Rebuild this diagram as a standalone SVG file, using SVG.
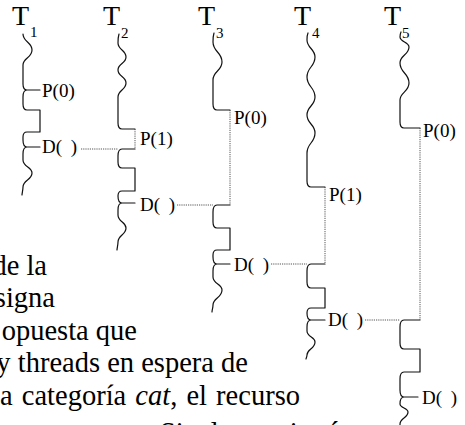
<svg xmlns="http://www.w3.org/2000/svg" width="465" height="425" viewBox="0 0 465 425">
<style>
.th{fill:none;stroke:#111;stroke-width:1.2;stroke-linejoin:round;stroke-linecap:round}
.dt{fill:none;stroke:#555;stroke-width:1;stroke-dasharray:1.2 1}
text{font-family:"Liberation Serif","Times New Roman",serif;fill:#000}
.tl{font-size:28px}
.sb{font-size:15px}
.lb{font-size:19px}
.dl{word-spacing:4px}
.pa{font-size:28.5px}
</style>
<rect width="465" height="425" fill="#fff"/>
<g id="connectors">
<path class="dt" d="M81,149 H118 M135,129 V149"/>
<path class="dt" d="M177,205 H213 M230,110 V205"/>
<path class="dt" d="M271,264 H307 M325,187 V264"/>
<path class="dt" d="M365,320 H400 M420,128 V320"/>
</g>
<g id="T1">
<text class="tl" x="12" y="25">T</text><text class="sb" x="30" y="37">1</text>
<path class="th" d="M23,34 c0,8 9,8 9,16 c0,8 -9,8 -9,15 V84 c0,4 1,6 4,6 H40 M27,90 c-3,0 -4,3 -4,7 V104 c0,4 1,6 4,6 H40 V132 H27 c-3,0 -4,2 -4,5 V140 c0,4 1,7 4,7 H40 M27,147 c-3,0 -4,3 -4,7 V160 c0,7 9,7 9,13 c0,7 -9,7 -9,14 c0,3 -1,6 -1,8"/>
<text class="lb" x="42" y="97">P(0)</text>
<text class="lb dl" x="42" y="153">D( )</text>
</g>
<g id="T2">
<text class="tl" x="103" y="25">T</text><text class="sb" x="121" y="38">2</text>
<path class="th" d="M119,34 c-1,3 -1,5 -1,9 c0,7 8,7 8,14 c0,7 -8,6 -8,13 c0,7 8,6 8,13 c0,7 -8,7 -8,14 V123 c0,4 1,6 4,6 H135 M135,149 H122 c-3,0 -4,3 -4,7 V162 c0,4 1,6 4,6 H135 V191 H122 c-3,0 -4,2 -4,5 c0,4 1,7 4,7 H135 M122,203 c-3,0 -4,3 -4,7 V215 c0,7 8,7 8,13 c0,7 -8,7 -8,14 c0,3 -1,6 -1,8"/>
<text class="lb" x="140" y="145">P(1)</text>
<text class="lb dl" x="140" y="211">D( )</text>
</g>
<g id="T3">
<text class="tl" x="198" y="25">T</text><text class="sb" x="216" y="38">3</text>
<path class="th" d="M214,33 c-1,3 -1,6 -1,9 c0,10 9,10 9,20 c0,9 -9,9 -9,18 V104 c0,4 1,6 4,6 H230 M230,205 H217 c-3,0 -4,3 -4,7 V222 c0,4 1,6 4,6 H230 V250 H217 c-3,0 -4,2 -4,5 V257 c0,4 1,7 4,7 H230 M217,264 c-3,0 -4,3 -4,7 V277 c0,7 9,7 9,13 c0,8 -9,8 -9,15 c0,3 -1,5 -1,7"/>
<text class="lb" x="234" y="124">P(0)</text>
<text class="lb dl" x="234" y="271">D( )</text>
</g>
<g id="T4">
<text class="tl" x="294" y="25">T</text><text class="sb" x="312" y="38">4</text>
<path class="th" d="M308,33 c-1,2 -1,5 -1,7 c0,8 8,9 8,17 c0,10 -8,10 -8,20 c0,10 8,10 8,20 c0,9 -8,9 -8,18 c0,9 8,9 8,18 c0,10 -8,10 -8,20 V181 c0,4 1,6 4,6 H325 M325,264 H311 c-3,0 -4,3 -4,7 V282 c0,4 1,6 4,6 H325 V308 H311 c-3,0 -4,2 -4,5 c0,4 1,7 4,7 H325 M311,320 c-3,0 -4,3 -4,7 V331 c0,6 8,6 8,11 c0,7 -8,7 -8,13 c0,2 -1,3 -1,4"/>
<text class="lb" x="329" y="201">P(1)</text>
<text class="lb dl" x="328" y="326">D( )</text>
</g>
<g id="T5">
<text class="tl" x="384" y="25">T</text><text class="sb" x="402" y="38">5</text>
<path class="th" d="M401,32 c-1,2 -1,3 -1,5 c0,5 9,5 9,10 c0,8 -9,8 -9,16 c0,10 9,10 9,20 c0,9 -9,9 -9,17 V122 c0,4 1,6 4,6 H420 M420,320 H404 c-3,0 -4,3 -4,7 V343 c0,4 1,6 4,6 H420 V372 H404 c-3,0 -4,3 -4,7 V390 c0,4 1,7 4,7 H418 M404,397 c-3,0 -4,3 -4,7 c0,4 8,4 8,8 c0,6 -8,6 -8,12 v4"/>
<text class="lb" x="423" y="137">P(0)</text>
<text class="lb dl" x="422" y="404">D( )</text>
</g>
<g id="paragraph">
<text class="pa" x="47" y="275" text-anchor="end">de la</text>
<text class="pa" x="55" y="307" text-anchor="end">signa</text>
<text class="pa" x="137" y="340" text-anchor="end">opuesta que</text>
<text class="pa" x="248" y="372" text-anchor="end">y threads en espera de</text>
<text class="pa" x="0" y="405" style="word-spacing:2px">a categoría <tspan font-style="italic">cat</tspan>, el recurso</text>
<text class="pa" y="442"><tspan x="160">Si</tspan><tspan x="198">el</tspan><tspan x="266">asignó</tspan></text>
</g>
</svg>
